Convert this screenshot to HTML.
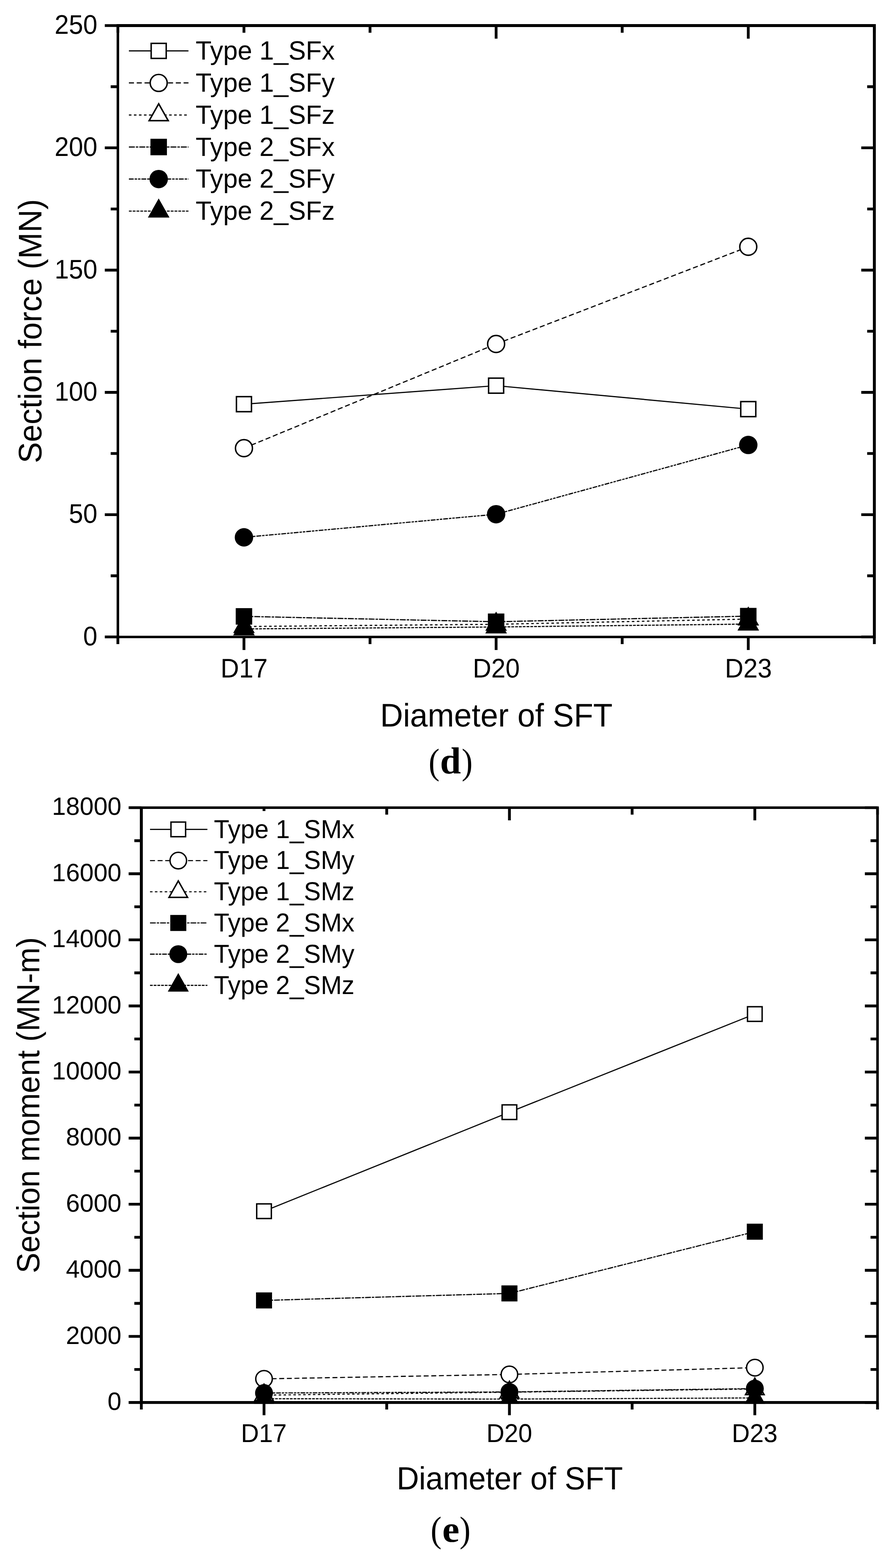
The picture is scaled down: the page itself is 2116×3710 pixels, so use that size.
<!DOCTYPE html>
<html lang="en">
<head>
<meta charset="utf-8">
<title>Section force and section moment versus diameter of SFT</title>
<style>
html,body{margin:0;padding:0;background:#fff}
body{width:2116px;height:3710px}
svg{display:block}
text{text-rendering:geometricPrecision}
.t{font-family:"Liberation Sans",Arial,Helvetica,sans-serif;fill:#000}
.c{font-family:"Liberation Serif","Times New Roman",Times,serif;fill:#000}
.ax{fill:none;stroke:#000;stroke-linecap:butt;stroke-linejoin:miter}
.ln{fill:none;stroke:#000;stroke-linecap:butt;stroke-linejoin:round}
</style>
</head>
<body>
<svg width="2116" height="3710" viewBox="0 0 2116 3710">
<rect width="2116" height="3710" fill="#fff"/>
<g id="chart-d">
<svg class="plot" x="279" y="60.45" width="1790.5" height="1449.8" viewBox="279 60.45 1790.5 1449.8" overflow="hidden">
<path class="ln" d="M577.42 956.3L1174.25 912.5M1174.25 912.5L1771.08 968" stroke-width="2.7"/>
<rect x="559.62" y="938.5" width="35.6" height="35.6" fill="#fff" stroke="#000" stroke-width="3.4"/>
<rect x="1156.45" y="894.7" width="35.6" height="35.6" fill="#fff" stroke="#000" stroke-width="3.4"/>
<rect x="1753.28" y="950.2" width="35.6" height="35.6" fill="#fff" stroke="#000" stroke-width="3.4"/>
<path class="ln" d="M577.42 1060.4L1174.25 813.9M1174.25 813.9L1771.08 583.9" stroke-width="2.7" stroke-dasharray="12 6.5"/>
<circle cx="577.42" cy="1060.4" r="20.1" fill="#fff" stroke="#000" stroke-width="3.4"/>
<circle cx="1174.25" cy="813.9" r="20.1" fill="#fff" stroke="#000" stroke-width="3.4"/>
<circle cx="1771.08" cy="583.9" r="20.1" fill="#fff" stroke="#000" stroke-width="3.4"/>
<path class="ln" d="M577.42 1482.4L1174.25 1477.1M1174.25 1477.1L1771.08 1464.8" stroke-width="2.7" stroke-dasharray="6 5.9"/>
<path d="M577.42 1452.4L603.02 1497.7L551.82 1497.7Z" fill="#000"/><path d="M577.42 1459.54L596.96 1494.13L557.87 1494.13Z" fill="#fff"/>
<path d="M1174.25 1447.1L1199.85 1492.4L1148.65 1492.4Z" fill="#000"/><path d="M1174.25 1454.24L1193.8 1488.83L1154.7 1488.83Z" fill="#fff"/>
<path d="M1771.08 1434.8L1796.68 1480.1L1745.48 1480.1Z" fill="#000"/><path d="M1771.08 1441.94L1790.63 1476.53L1751.54 1476.53Z" fill="#fff"/>
<path class="ln" d="M577.42 1458.4L1174.25 1471.1M1174.25 1471.1L1771.08 1457.8" stroke-width="2.7" stroke-dasharray="14 2.4 5.8 2.4"/>
<rect x="557.92" y="1438.9" width="39" height="39" fill="#000"/>
<rect x="1154.75" y="1451.6" width="39" height="39" fill="#000"/>
<rect x="1751.58" y="1438.3" width="39" height="39" fill="#000"/>
<path class="ln" d="M577.42 1271.4L1174.25 1216.7M1174.25 1216.7L1771.08 1052.8" stroke-width="2.7" stroke-dasharray="11.3 2.3 5.7 2.3 5.7 2.3"/>
<circle cx="577.42" cy="1271.4" r="21.8" fill="#000"/>
<circle cx="1174.25" cy="1216.7" r="21.8" fill="#000"/>
<circle cx="1771.08" cy="1052.8" r="21.8" fill="#000"/>
<path class="ln" d="M577.42 1488.1L1174.25 1483.5M1174.25 1483.5L1771.08 1476.6" stroke-width="2.7" stroke-dasharray="6.6 2.4"/>
<path d="M577.42 1458.1L603.02 1503.4L551.82 1503.4Z" fill="#000"/>
<path d="M1174.25 1453.5L1199.85 1498.8L1148.65 1498.8Z" fill="#000"/>
<path d="M1771.08 1446.6L1796.68 1491.9L1745.48 1491.9Z" fill="#000"/>
</svg>
<path class="ax" stroke-width="6.6" d="M279 1507.05H248M2069.5 1507.05H2038.5M279 1362.39H262M2069.5 1362.39H2052.5M279 1217.73H248M2069.5 1217.73H2038.5M279 1073.07H262M2069.5 1073.07H2052.5M279 928.41H248M2069.5 928.41H2038.5M279 783.75H262M2069.5 783.75H2052.5M279 639.09H248M2069.5 639.09H2038.5M279 494.43H262M2069.5 494.43H2052.5M279 349.77H248M2069.5 349.77H2038.5M279 205.11H262M2069.5 205.11H2052.5M279 60.45H248M2069.5 60.45H2038.5M279 1507.05V1524.05M279 60.45V77.45M577.42 1507.05V1538.05M577.42 60.45V91.45M875.83 1507.05V1524.05M875.83 60.45V77.45M1174.25 1507.05V1538.05M1174.25 60.45V91.45M1472.67 1507.05V1524.05M1472.67 60.45V77.45M1771.08 1507.05V1538.05M1771.08 60.45V91.45M2069.5 1507.05V1524.05M2069.5 60.45V77.45"/>
<path fill="#000" d="M276 57H2072.95V1509.9H276ZM282 63.9V1504.2H2066.05V63.9Z"/>
<rect x="296" y="77.5" width="520" height="460" fill="#fff"/>
<path class="ln" d="M305.1 120.4L446.1 120.4" stroke-width="2.7"/>
<rect x="357.8" y="102.6" width="35.6" height="35.6" fill="#fff" stroke="#000" stroke-width="3.4"/>
<text class="t" transform="translate(463 141.2) scale(1.012 1.025)" font-size="61">Type 1_SFx</text>
<path class="ln" d="M305.1 196.22L446.1 196.22" stroke-width="2.7" stroke-dasharray="12 6.5"/>
<circle cx="375.6" cy="196.22" r="20.1" fill="#fff" stroke="#000" stroke-width="3.4"/>
<text class="t" transform="translate(463 217.02) scale(1.012 1.025)" font-size="61">Type 1_SFy</text>
<path class="ln" d="M305.1 272.04L446.1 272.04" stroke-width="2.7" stroke-dasharray="6 5.9"/>
<path d="M375.6 242.04L401.2 287.34L350 287.34Z" fill="#000"/><path d="M375.6 249.18L395.15 283.77L356.05 283.77Z" fill="#fff"/>
<text class="t" transform="translate(463 292.84) scale(1.012 1.025)" font-size="61">Type 1_SFz</text>
<path class="ln" d="M305.1 347.86L446.1 347.86" stroke-width="2.7" stroke-dasharray="14 2.4 5.8 2.4"/>
<rect x="356.1" y="328.36" width="39" height="39" fill="#000"/>
<text class="t" transform="translate(463 368.66) scale(1.012 1.025)" font-size="61">Type 2_SFx</text>
<path class="ln" d="M305.1 423.68L446.1 423.68" stroke-width="2.7" stroke-dasharray="11.3 2.3 5.7 2.3 5.7 2.3"/>
<circle cx="375.6" cy="423.68" r="21.8" fill="#000"/>
<text class="t" transform="translate(463 444.48) scale(1.012 1.025)" font-size="61">Type 2_SFy</text>
<path class="ln" d="M305.1 499.5L446.1 499.5" stroke-width="2.7" stroke-dasharray="6.6 2.4"/>
<path d="M375.6 469.5L401.2 514.8L350 514.8Z" fill="#000"/>
<text class="t" transform="translate(463 520.3) scale(1.012 1.025)" font-size="61">Type 2_SFz</text>
<text class="t" text-anchor="end" transform="translate(230.5 1526.65) scale(0.995 1.045)" font-size="61">0</text>
<text class="t" text-anchor="end" transform="translate(230.5 1237.33) scale(0.995 1.045)" font-size="61">50</text>
<text class="t" text-anchor="end" transform="translate(230.5 948.01) scale(0.995 1.045)" font-size="61">100</text>
<text class="t" text-anchor="end" transform="translate(230.5 658.69) scale(0.995 1.045)" font-size="61">150</text>
<text class="t" text-anchor="end" transform="translate(230.5 369.37) scale(0.995 1.045)" font-size="61">200</text>
<text class="t" text-anchor="end" transform="translate(230.5 80.05) scale(0.995 1.045)" font-size="61">250</text>
<text class="t" text-anchor="middle" transform="translate(577.72 1603) scale(0.995 1.045)" font-size="61">D17</text>
<text class="t" text-anchor="middle" transform="translate(1174.55 1603) scale(0.995 1.045)" font-size="61">D20</text>
<text class="t" text-anchor="middle" transform="translate(1771.38 1603) scale(0.995 1.045)" font-size="61">D23</text>
<text class="t" text-anchor="middle" transform="translate(1174.8 1718.8) scale(1 1.03)" font-size="75">Diameter of SFT</text>
<text class="t" text-anchor="middle" transform="translate(98.1 783.5) rotate(-90) scale(1 1.03)" font-size="75">Section force (MN)</text>
<text class="c" font-size="86"><tspan x="1014.5" y="1830.7" textLength="25.92" lengthAdjust="spacingAndGlyphs">(</tspan><tspan x="1041.4" y="1830.2" font-weight="bold" font-size="89">d</tspan><tspan x="1092.7" y="1830.7" textLength="25.92" lengthAdjust="spacingAndGlyphs">)</tspan></text>
</g>
<g id="chart-e">
<svg class="plot" x="334.5" y="1910.95" width="1742.5" height="1410.6" viewBox="334.5 1910.95 1742.5 1410.6" overflow="hidden">
<path class="ln" d="M624.92 2865.8L1205.75 2631.5M1205.75 2631.5L1786.58 2399.3" stroke-width="2.63"/>
<rect x="607.6" y="2848.48" width="34.64" height="34.64" fill="#fff" stroke="#000" stroke-width="3.31"/>
<rect x="1188.43" y="2614.18" width="34.64" height="34.64" fill="#fff" stroke="#000" stroke-width="3.31"/>
<rect x="1769.26" y="2381.98" width="34.64" height="34.64" fill="#fff" stroke="#000" stroke-width="3.31"/>
<path class="ln" d="M624.92 3262.5L1205.75 3252M1205.75 3252L1786.58 3236" stroke-width="2.63" stroke-dasharray="11.68 6.32"/>
<circle cx="624.92" cy="3262.5" r="19.56" fill="#fff" stroke="#000" stroke-width="3.31"/>
<circle cx="1205.75" cy="3252" r="19.56" fill="#fff" stroke="#000" stroke-width="3.31"/>
<circle cx="1786.58" cy="3236" r="19.56" fill="#fff" stroke="#000" stroke-width="3.31"/>
<path class="ln" d="M624.92 3301L1205.75 3294M1205.75 3294L1786.58 3286.5" stroke-width="2.63" stroke-dasharray="5.84 5.74"/>
<path d="M624.92 3271.81L649.83 3315.89L600.01 3315.89Z" fill="#000"/><path d="M624.92 3278.76L643.94 3312.41L605.9 3312.41Z" fill="#fff"/>
<path d="M1205.75 3264.81L1230.66 3308.89L1180.84 3308.89Z" fill="#000"/><path d="M1205.75 3271.76L1224.77 3305.41L1186.73 3305.41Z" fill="#fff"/>
<path d="M1786.58 3257.31L1811.49 3301.39L1761.67 3301.39Z" fill="#000"/><path d="M1786.58 3264.26L1805.6 3297.91L1767.56 3297.91Z" fill="#fff"/>
<path class="ln" d="M624.92 3076.9L1205.75 3060.3M1205.75 3060.3L1786.58 2914.3" stroke-width="2.63" stroke-dasharray="13.62 2.34 5.64 2.34"/>
<rect x="605.94" y="3057.93" width="37.95" height="37.95" fill="#000"/>
<rect x="1186.78" y="3041.33" width="37.95" height="37.95" fill="#000"/>
<rect x="1767.61" y="2895.33" width="37.95" height="37.95" fill="#000"/>
<path class="ln" d="M624.92 3296L1205.75 3293.5M1205.75 3293.5L1786.58 3285.5" stroke-width="2.63" stroke-dasharray="10.99 2.24 5.55 2.24 5.55 2.24"/>
<circle cx="624.92" cy="3296" r="21.21" fill="#000"/>
<circle cx="1205.75" cy="3293.5" r="21.21" fill="#000"/>
<circle cx="1786.58" cy="3285.5" r="21.21" fill="#000"/>
<path class="ln" d="M624.92 3309.5L1205.75 3310.3M1205.75 3310.3L1786.58 3307.6" stroke-width="2.63" stroke-dasharray="6.42 2.34"/>
<path d="M624.92 3280.31L649.83 3324.39L600.01 3324.39Z" fill="#000"/>
<path d="M1205.75 3281.11L1230.66 3325.19L1180.84 3325.19Z" fill="#000"/>
<path d="M1786.58 3278.41L1811.49 3322.49L1761.67 3322.49Z" fill="#000"/>
</svg>
<path class="ax" stroke-width="6.6" d="M334.5 3318.4H304.5M2077 3318.4H2047M334.5 3240.21H318M2077 3240.21H2060.5M334.5 3162.02H304.5M2077 3162.02H2047M334.5 3083.83H318M2077 3083.83H2060.5M334.5 3005.63H304.5M2077 3005.63H2047M334.5 2927.44H318M2077 2927.44H2060.5M334.5 2849.25H304.5M2077 2849.25H2047M334.5 2771.06H318M2077 2771.06H2060.5M334.5 2692.87H304.5M2077 2692.87H2047M334.5 2614.68H318M2077 2614.68H2060.5M334.5 2536.48H304.5M2077 2536.48H2047M334.5 2458.29H318M2077 2458.29H2060.5M334.5 2380.1H304.5M2077 2380.1H2047M334.5 2301.91H318M2077 2301.91H2060.5M334.5 2223.72H304.5M2077 2223.72H2047M334.5 2145.53H318M2077 2145.53H2060.5M334.5 2067.33H304.5M2077 2067.33H2047M334.5 1989.14H318M2077 1989.14H2060.5M334.5 1910.95H304.5M2077 1910.95H2047M334.5 3318.4V3334.9M334.5 1910.95V1927.45M624.92 3318.4V3348.4M624.92 1910.95V1940.95M915.33 3318.4V3334.9M915.33 1910.95V1927.45M1205.75 3318.4V3348.4M1205.75 1910.95V1940.95M1496.17 3318.4V3334.9M1496.17 1910.95V1927.45M1786.58 3318.4V3348.4M1786.58 1910.95V1940.95M2077 3318.4V3334.9M2077 1910.95V1927.45"/>
<path fill="#000" d="M331 1908H2080V3321.8H331ZM338 1913.9V3315H2074V1913.9Z"/>
<rect x="345" y="1919" width="520" height="450" fill="#fff"/>
<path class="ln" d="M355.1 1962.4L490.9 1962.4" stroke-width="2.63"/>
<rect x="404.68" y="1945.08" width="34.64" height="34.64" fill="#fff" stroke="#000" stroke-width="3.31"/>
<text class="t" transform="translate(506.3 1982.5) scale(1.008 1.035)" font-size="59.4">Type 1_SMx</text>
<path class="ln" d="M355.1 2036.2L490.9 2036.2" stroke-width="2.63" stroke-dasharray="11.68 6.32"/>
<circle cx="422" cy="2036.2" r="19.56" fill="#fff" stroke="#000" stroke-width="3.31"/>
<text class="t" transform="translate(506.3 2056.3) scale(1.008 1.035)" font-size="59.4">Type 1_SMy</text>
<path class="ln" d="M355.1 2110L490.9 2110" stroke-width="2.63" stroke-dasharray="5.84 5.74"/>
<path d="M422 2080.81L446.91 2124.89L397.09 2124.89Z" fill="#000"/><path d="M422 2087.76L441.02 2121.41L402.98 2121.41Z" fill="#fff"/>
<text class="t" transform="translate(506.3 2130.1) scale(1.008 1.035)" font-size="59.4">Type 1_SMz</text>
<path class="ln" d="M355.1 2183.8L490.9 2183.8" stroke-width="2.63" stroke-dasharray="13.62 2.34 5.64 2.34"/>
<rect x="403.03" y="2164.83" width="37.95" height="37.95" fill="#000"/>
<text class="t" transform="translate(506.3 2203.9) scale(1.008 1.035)" font-size="59.4">Type 2_SMx</text>
<path class="ln" d="M355.1 2257.6L490.9 2257.6" stroke-width="2.63" stroke-dasharray="10.99 2.24 5.55 2.24 5.55 2.24"/>
<circle cx="422" cy="2257.6" r="21.21" fill="#000"/>
<text class="t" transform="translate(506.3 2277.7) scale(1.008 1.035)" font-size="59.4">Type 2_SMy</text>
<path class="ln" d="M355.1 2331.4L490.9 2331.4" stroke-width="2.63" stroke-dasharray="6.42 2.34"/>
<path d="M422 2302.21L446.91 2346.29L397.09 2346.29Z" fill="#000"/>
<text class="t" transform="translate(506.3 2351.5) scale(1.008 1.035)" font-size="59.4">Type 2_SMz</text>
<text class="t" text-anchor="end" transform="translate(287.4 3335.9) scale(0.995 1)" font-size="59.4">0</text>
<text class="t" text-anchor="end" transform="translate(287.4 3179.52) scale(0.995 1)" font-size="59.4">2000</text>
<text class="t" text-anchor="end" transform="translate(287.4 3023.13) scale(0.995 1)" font-size="59.4">4000</text>
<text class="t" text-anchor="end" transform="translate(287.4 2866.75) scale(0.995 1)" font-size="59.4">6000</text>
<text class="t" text-anchor="end" transform="translate(287.4 2710.37) scale(0.995 1)" font-size="59.4">8000</text>
<text class="t" text-anchor="end" transform="translate(287.4 2553.98) scale(0.995 1)" font-size="59.4">10000</text>
<text class="t" text-anchor="end" transform="translate(287.4 2397.6) scale(0.995 1)" font-size="59.4">12000</text>
<text class="t" text-anchor="end" transform="translate(287.4 2241.22) scale(0.995 1)" font-size="59.4">14000</text>
<text class="t" text-anchor="end" transform="translate(287.4 2084.83) scale(0.995 1)" font-size="59.4">16000</text>
<text class="t" text-anchor="end" transform="translate(287.4 1928.45) scale(0.995 1)" font-size="59.4">18000</text>
<text class="t" text-anchor="middle" transform="translate(624.52 3412) scale(0.995 1.03)" font-size="59.4">D17</text>
<text class="t" text-anchor="middle" transform="translate(1205.35 3412) scale(0.995 1.03)" font-size="59.4">D20</text>
<text class="t" text-anchor="middle" transform="translate(1786.18 3412) scale(0.995 1.03)" font-size="59.4">D23</text>
<text class="t" text-anchor="middle" transform="translate(1206.6 3524.2) scale(1 1.04)" font-size="73">Diameter of SFT</text>
<text class="t" text-anchor="middle" transform="translate(93.1 2614.9) rotate(-90) scale(1 1.04)" font-size="73">Section moment (MN-m)</text>
<text class="c" font-size="86"><tspan x="1019.3" y="3647.7" textLength="25.92" lengthAdjust="spacingAndGlyphs">(</tspan><tspan x="1046.8" y="3648.4" font-weight="bold" font-size="88.5" textLength="40.69" lengthAdjust="spacingAndGlyphs">e</tspan><tspan x="1087.8" y="3647.7" textLength="25.92" lengthAdjust="spacingAndGlyphs">)</tspan></text>
</g>
</svg>
</body>
</html>
